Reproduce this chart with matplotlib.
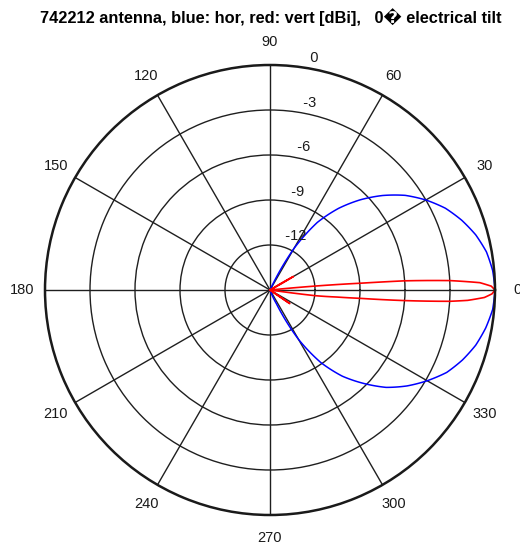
import matplotlib.pyplot as plt
import numpy as np

# horizontal pattern (blue), degrees / dB
hor_angles = [-180, -90, -75, -70, -65, -60, -55, -50, -45, -40, -35, -30, -25, -20,
              -15, -10, -5, 0, 5, 10, 15, 20, 25, 30, 35, 40, 45, 50, 55, 60, 65,
              70, 75, 90, 180]
hor_db = [-30, -28, -22, -18, -14, -11.2, -9.1, -7.5, -6.2, -4.9, -3.85, -2.9, -2.0, -1.35,
          -0.8, -0.4, -0.1, 0, -0.1, -0.35, -0.8, -1.4, -2.1, -3.0, -4.0, -5.2, -6.5, -7.9, -9.5, -11.8, -16,
          -19, -22, -28, -30]

# vertical pattern (red), degrees / dB
vert_angles = [-180, -40, -36, -34.5, -33, -20, -10, -8, -7.2, -6, -5.3, -4.5, -3.6, -3,
               -2, -1, 0, 1, 2, 3, 3.9, 4.3, 5, 5.6, 10, 28, 30, 32, 40, 180]
vert_db = [-30, -25, -17, -13.4, -17, -22, -18, -15.5, -12, -10.5, -9, -6, -3, -1.8,
           -0.7, -0.2, 0, -0.25, -1.0, -3.0, -6, -9, -12, -15.5, -20, -17, -13.2, -17, -25, -30]

r_ticks = [-12, -9, -6, -3]
r_labels = ['0', '-3', '-6', '-9', '-12']
theta_labels = [0, 30, 60, 90, 120, 150, 180, 210, 240, 270, 300, 330]

rmin, rmax = -15, 0
font = ['Liberation Sans', 'DejaVu Sans']

fig = plt.figure(figsize=(5.2, 5.48), dpi=100)
ax = fig.add_axes([45 / 520, 33 / 548, 450 / 520, 450 / 548], projection='polar')

l1, = ax.plot(np.deg2rad(hor_angles), np.maximum(hor_db, rmin), color='blue', lw=1.1)
l2, = ax.plot(np.deg2rad(vert_angles), np.maximum(vert_db, rmin), color='red', lw=1.2)
# draw segments as curves in polar space
l1._path._interpolation_steps = 30
l2._path._interpolation_steps = 4

ax.set_ylim(rmin, rmax)
ax.set_rgrids(r_ticks, labels=[''] * len(r_ticks))
ax.set_thetagrids(theta_labels, labels=[''] * len(theta_labels))
ax.grid(True, color='0.12', lw=1.0, ls='-')
ax.spines['polar'].set_linewidth(1.8)
ax.spines['polar'].set_color('0.1')

# angle labels at 1.1 * radius
for a in theta_labels:
    ax.text(np.deg2rad(a), rmin + 1.1 * (rmax - rmin), str(a), ha='center', va='center',
            fontsize=10.5, family=font, color='0.1')

# radius labels at 82 degrees
for lab in r_labels:
    v = float(lab)
    ax.text(np.deg2rad(82), v + 0.15, '  ' + lab, ha='left', va='bottom',
            fontsize=10.5, family=font, color='0.1')

fig.text(0.52, 1 - 17 / 548, '742212 antenna, blue: hor, red: vert [dBi],   0\ufffd electrical tilt',
         ha='center', va='center', fontsize=11.8, fontweight='bold', family=font)

fig.savefig('out.png', dpi=100)
